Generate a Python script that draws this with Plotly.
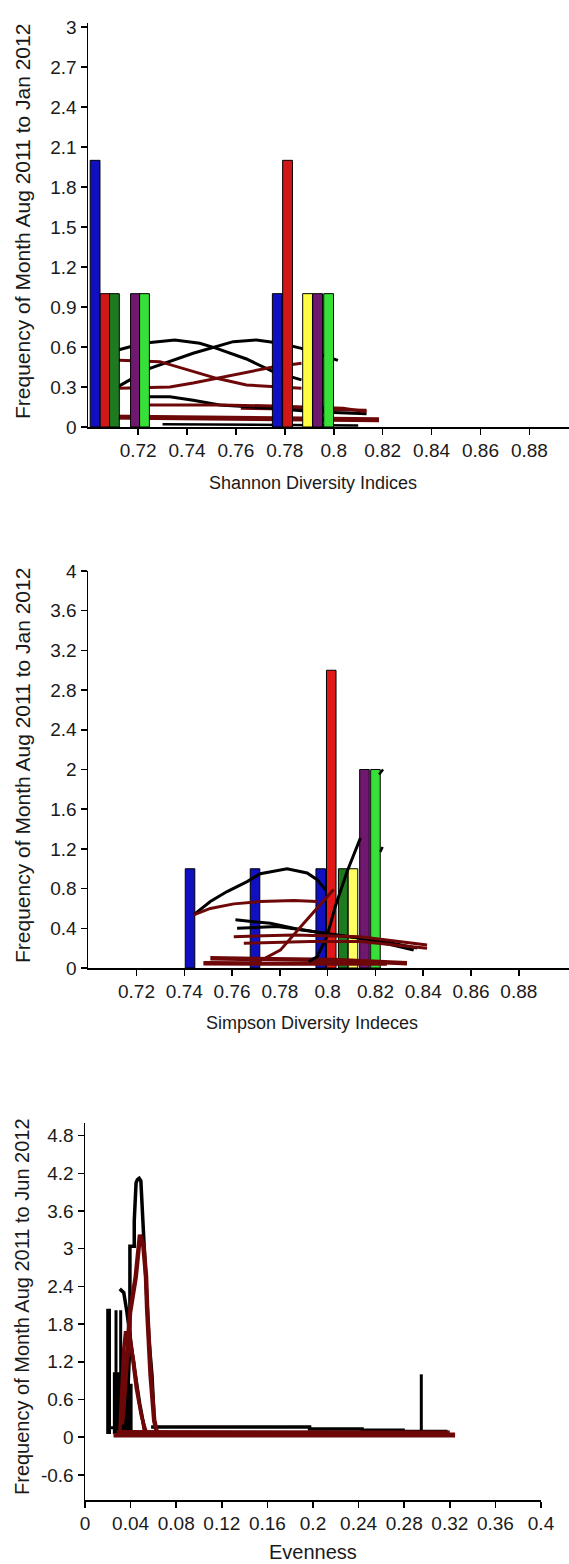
import plotly.graph_objects as go

W, H = 569, 1564

# ---------------- Panel 1: Shannon diversity ----------------
shannon_bar_x = [0.7024, 0.7065, 0.7103, 0.7189, 0.7226, 0.7769, 0.7811, 0.7893, 0.7934, 0.7979]
shannon_bar_freq = [2, 1, 1, 1, 1, 1, 2, 1, 1, 1]
shannon_bar_colors = ["#1010C0", "#D01818", "#1E7A1E", "#701870", "#36E036",
                      "#1010C0", "#D01818", "#FFFF40", "#701870", "#36E036"]

sh_fit1_x = [0.7118, 0.7220, 0.7350, 0.7452, 0.7521, 0.7643, 0.7752, 0.7868]
sh_fit1_y = [0.578, 0.628, 0.653, 0.628, 0.590, 0.51, 0.415, 0.353]
sh_fit2_x = [0.7118, 0.7248, 0.7425, 0.7589, 0.7684, 0.7780, 0.7868, 0.8017]
sh_fit2_y = [0.303, 0.44, 0.553, 0.64, 0.653, 0.628, 0.59, 0.50]
sh_red1_x = [0.7016, 0.7125, 0.7289, 0.7425, 0.7521, 0.7643, 0.7868]
sh_red1_y = [0.50, 0.50, 0.49, 0.415, 0.365, 0.315, 0.29]
sh_red2_x = [0.7125, 0.7330, 0.7425, 0.7521, 0.7643, 0.7752, 0.7868]
sh_red2_y = [0.29, 0.30, 0.33, 0.365, 0.415, 0.45, 0.478]
sh_fit3_x = [0.7241, 0.7330, 0.7425, 0.7534, 0.7752, 0.7916, 0.8134]
sh_fit3_y = [0.227, 0.227, 0.20, 0.165, 0.14, 0.115, 0.10]
sh_red3_x = [0.7241, 0.7534, 0.7752, 0.8038, 0.8134]
sh_red3_y = [0.165, 0.165, 0.158, 0.14, 0.115]
sh_red4_x = [0.7060, 0.7500, 0.7900, 0.8185]
sh_red4_y = [0.075, 0.065, 0.06, 0.055]
sh_fit4_x = [0.7300, 0.7700, 0.8100]
sh_fit4_y = [0.02, 0.015, 0.012]
sh_red5_x = [0.7620, 0.7900, 0.8134]
sh_red5_y = [0.14, 0.13, 0.125]

# ---------------- Panel 2: Simpson diversity ----------------
simpson_bar_x = [0.7424, 0.7696, 0.7971, 0.8015, 0.8065, 0.8106, 0.8154, 0.8200]
simpson_bar_freq = [1, 1, 1, 3, 1, 1, 2, 2]
simpson_bar_colors = ["#1010C0", "#1010C0", "#1010C0", "#E01818", "#1E7A1E",
                      "#FFFF60", "#701870", "#36E036"]

si_fit1_x = [0.7439, 0.7509, 0.7579, 0.7663, 0.7718, 0.7830, 0.7914, 0.7956, 0.7990]
si_fit1_y = [0.535, 0.67, 0.77, 0.87, 0.95, 1.0, 0.957, 0.89, 0.79]
si_fit2_x = [0.7921, 0.7956, 0.7997, 0.8032, 0.8081, 0.8137]
si_fit2_y = [0.064, 0.114, 0.316, 0.62, 0.97, 1.31]
si_fit3_x = [0.7614, 0.7760, 0.7886, 0.7997, 0.8137, 0.8276, 0.8360]
si_fit3_y = [0.485, 0.45, 0.385, 0.35, 0.30, 0.23, 0.18]
si_fit4_x = [0.7621, 0.7788, 0.7900, 0.8025, 0.8207, 0.8374]
si_fit4_y = [0.40, 0.417, 0.384, 0.333, 0.283, 0.20]
si_mark_x = [0.8215, 0.8232, None, 0.8220, 0.8230]
si_mark_y = [1.95, 2.0, None, 1.17, 1.22]
si_red1_x = [0.7439, 0.7509, 0.7607, 0.7718, 0.7858, 0.7956]
si_red1_y = [0.535, 0.60, 0.646, 0.67, 0.68, 0.67]
si_red2_x = [0.7700, 0.7802, 0.7900, 0.8025]
si_red2_y = [0.05, 0.18, 0.45, 0.79]
si_red3_x = [0.7607, 0.7858, 0.8137, 0.8416]
si_red3_y = [0.316, 0.333, 0.316, 0.232]
si_red4_x = [0.7649, 0.7928, 0.8137, 0.8416]
si_red4_y = [0.25, 0.266, 0.266, 0.20]
si_red5_x = [0.7509, 0.7858, 0.8025, 0.8332]
si_red5_y = [0.098, 0.09, 0.08, 0.047]
si_red6_x = [0.7480, 0.7970, 0.8248]
si_red6_y = [0.047, 0.047, 0.045]

# ---------------- Panel 3: Evenness ----------------
ev_peak_x = [0.0360, 0.0394, 0.0394, 0.0432, 0.0432, 0.0448, 0.0460, 0.0475, 0.0490,
             0.0502, 0.0520, 0.0544, 0.0561, 0.0588, 0.0607, 0.0630]
ev_peak_y = [0.05, 1.5, 3.04, 3.04, 3.44, 4.05, 4.10, 4.12, 4.08, 3.65, 3.08, 2.05,
             1.55, 0.98, 0.27, 0.05]
ev_desc_x = [0.0305, 0.0340, 0.0367, 0.0397, 0.0432, 0.0480, 0.0530]
ev_desc_y = [2.36, 2.30, 2.0, 1.55, 1.1, 0.53, 0.05]
ev_redpeak_x = [0.0330, 0.0395, 0.0445, 0.0465, 0.0482, 0.0512, 0.0535, 0.0545,
                0.0575, 0.0607, 0.0630]
ev_redpeak_y = [0.3, 1.98, 2.55, 3.0, 3.22, 3.05, 2.57, 2.05, 1.0, 0.27, 0.08]
ev_red2_x = [0.0305, 0.0340, 0.0355, 0.0390, 0.0414, 0.0450, 0.0496, 0.0540]
ev_red2_y = [0.05, 1.4, 1.66, 1.66, 1.32, 0.78, 0.33, 0.06]
ev_red3_x = [0.0330, 0.0370, 0.0400, 0.0430, 0.0470, 0.0520]
ev_red3_y = [0.2, 1.2, 1.5, 1.2, 0.6, 0.1]
ev_spike_x = [0.0199, 0.0199, 0.0215, 0.0215, None, 0.0272, 0.0272, None, 0.0313, 0.0313]
ev_spike_y = [0.05, 2.02, 2.02, 0.05, None, 0.08, 2.02, None, 0.08, 2.02]
ev_block_x = [0.0262, 0.0262, 0.0280, 0.0280, 0.0300, 0.0300, 0.0320, 0.0320, 0.0345,
              0.0345, 0.0372, 0.0372, 0.0400, 0.0400]
ev_block_y = [0.05, 1.0, 1.0, 0.1, 0.1, 1.0, 1.0, 0.1, 0.1, 0.95, 0.95, 0.1, 0.1, 0.85]
ev_base_x = [0.0199, 0.0350]
ev_base_y = [0.15, 0.15]
ev_tail_x = [0.0580, 0.1970, 0.1970, 0.2430, 0.2430, 0.2790, 0.2790, 0.3180]
ev_tail_y = [0.16, 0.16, 0.13, 0.13, 0.11, 0.11, 0.09, 0.09]
ev_single_x = [0.2950, 0.2950]
ev_single_y = [0.08, 1.0]
ev_redband1_x = [0.0280, 0.0600, 0.2000, 0.3180, 0.3180, 0.3246]
ev_redband1_y = [0.08, 0.08, 0.08, 0.07, 0.04, 0.04]
ev_redband2_x = [0.0250, 0.0600, 0.3246]
ev_redband2_y = [0.03, 0.03, 0.03]

BLACK = "#000000"
MAROON = "#6E0808"

fig = go.Figure()


def line(x, y, color, width, xa, ya):
    fig.add_trace(go.Scatter(x=x, y=y, mode="lines", line=dict(color=color, width=width),
                             xaxis=xa, yaxis=ya, showlegend=False, hoverinfo="skip"))


# panel 1 lines (base subplot, bars overlaid above them)
for xs, ys, c, w in [
    (sh_red4_x, sh_red4_y, MAROON, 5), (sh_fit4_x, sh_fit4_y, BLACK, 2.5),
    (sh_red5_x, sh_red5_y, MAROON, 3),
    (sh_fit1_x, sh_fit1_y, BLACK, 3), (sh_fit2_x, sh_fit2_y, BLACK, 3),
    (sh_red1_x, sh_red1_y, MAROON, 3), (sh_red2_x, sh_red2_y, MAROON, 3),
    (sh_fit3_x, sh_fit3_y, BLACK, 3), (sh_red3_x, sh_red3_y, MAROON, 3),
]:
    line(xs, ys, c, w, "x", "y")

fig.add_trace(go.Bar(x=shannon_bar_x, y=shannon_bar_freq, width=0.0040,
                     marker=dict(color=shannon_bar_colors, line=dict(color="black", width=1)),
                     xaxis="x4", yaxis="y4", showlegend=False))

# panel 2
fig.add_trace(go.Bar(x=simpson_bar_x, y=simpson_bar_freq, width=0.0040,
                     marker=dict(color=simpson_bar_colors, line=dict(color="black", width=1)),
                     xaxis="x2", yaxis="y2", showlegend=False))
for xs, ys, c, w in [
    (si_red5_x, si_red5_y, MAROON, 4.5), (si_red6_x, si_red6_y, MAROON, 4.5),
    (si_fit1_x, si_fit1_y, BLACK, 3), (si_fit2_x, si_fit2_y, BLACK, 3),
    (si_fit3_x, si_fit3_y, BLACK, 3), (si_fit4_x, si_fit4_y, BLACK, 3),
    (si_mark_x, si_mark_y, BLACK, 2.5),
    (si_red1_x, si_red1_y, MAROON, 3), (si_red2_x, si_red2_y, MAROON, 3),
    (si_red3_x, si_red3_y, MAROON, 3), (si_red4_x, si_red4_y, MAROON, 3),
]:
    line(xs, ys, c, w, "x2", "y2")

# panel 3
for xs, ys, c, w in [
    (ev_spike_x, ev_spike_y, BLACK, 3), (ev_block_x, ev_block_y, BLACK, 4),
    (ev_base_x, ev_base_y, BLACK, 3), (ev_tail_x, ev_tail_y, BLACK, 3.5),
    (ev_single_x, ev_single_y, BLACK, 3),
    (ev_peak_x, ev_peak_y, BLACK, 3.5),
    (ev_desc_x, ev_desc_y, BLACK, 3.5),
    (ev_redband1_x, ev_redband1_y, MAROON, 4.5), (ev_redband2_x, ev_redband2_y, MAROON, 4.5),
    (ev_red3_x, ev_red3_y, MAROON, 3),
    (ev_red2_x, ev_red2_y, MAROON, 3.5), (ev_redpeak_x, ev_redpeak_y, MAROON, 4.5),
]:
    line(xs, ys, c, w, "x3", "y3")

FONT = "Liberation Sans, Arial, sans-serif"
TICKFONT = dict(family=FONT, size=19, color="#1a1a1a")

axis_common = dict(showline=True, linecolor="black", linewidth=1.5, ticks="outside",
                   ticklen=6, tickcolor="black", tickwidth=1.5, showgrid=False,
                   zeroline=False, tickfont=TICKFONT, fixedrange=True, automargin=False)

sh_xticks = [0.72, 0.74, 0.76, 0.78, 0.80, 0.82, 0.84, 0.86, 0.88]
sh_xtext = ["0.72", "0.74", "0.76", "0.78", "0.8", "0.82", "0.84", "0.86", "0.88"]
sh_yticks = [0, 0.3, 0.6, 0.9, 1.2, 1.5, 1.8, 2.1, 2.4, 2.7, 3]
sh_ytext = ["0", "0.3", "0.6", "0.9", "1.2", "1.5", "1.8", "2.1", "2.4", "2.7", "3"]
si_yticks = [0, 0.4, 0.8, 1.2, 1.6, 2, 2.4, 2.8, 3.2, 3.6, 4]
si_ytext = ["0", "0.4", "0.8", "1.2", "1.6", "2", "2.4", "2.8", "3.2", "3.6", "4"]
ev_xticks = [0, 0.04, 0.08, 0.12, 0.16, 0.2, 0.24, 0.28, 0.32, 0.36, 0.4]
ev_xtext = ["0", "0.04", "0.08", "0.12", "0.16", "0.2", "0.24", "0.28", "0.32", "0.36", "0.4"]
ev_yticks = [-0.6, 0, 0.6, 1.2, 1.8, 2.4, 3, 3.6, 4.2, 4.8]
ev_ytext = ["-0.6", "0", "0.6", "1.2", "1.8", "2.4", "3", "3.6", "4.2", "4.8"]


def py(p):
    return 1 - p / H


SH_XR = [0.6995, 0.8962]
SH_YR = [0, 3.03]

fig.update_layout(
    template="none",
    width=W, height=H, margin=dict(l=0, r=0, t=0, b=0, autoexpand=False),
    paper_bgcolor="white", plot_bgcolor="white", showlegend=False, barmode="overlay",
    xaxis=dict(axis_common, domain=[88 / W, 1], range=SH_XR, anchor="y",
               tickvals=sh_xticks, ticktext=sh_xtext),
    yaxis=dict(axis_common, domain=[py(427), py(23)], range=SH_YR, anchor="x",
               tickvals=sh_yticks, ticktext=sh_ytext),
    xaxis4=dict(overlaying="x", range=SH_XR, visible=False, fixedrange=True, anchor="y4"),
    yaxis4=dict(overlaying="y", range=SH_YR, visible=False, fixedrange=True, anchor="x4"),
    xaxis2=dict(axis_common, domain=[88 / W, 1], range=[0.6997, 0.9010], anchor="y2",
                tickvals=sh_xticks, ticktext=sh_xtext),
    yaxis2=dict(axis_common, domain=[py(968), py(571)], range=[0, 4.0], anchor="x2",
                tickvals=si_yticks, ticktext=si_ytext),
    xaxis3=dict(axis_common, domain=[85 / W, 541 / W], range=[0, 0.4], anchor="y3",
                tickvals=ev_xticks, ticktext=ev_xtext),
    yaxis3=dict(axis_common, domain=[py(1500), py(1123)], range=[-1, 5], anchor="x3",
                tickvals=ev_yticks, ticktext=ev_ytext),
)

TITLE_FONT = dict(family=FONT, size=18, color="#1a1a1a")
YT_FONT = dict(family=FONT, size=21, color="#1a1a1a")
annos = [
    dict(text="Shannon Diversity Indices", x=313 / W, y=py(483), font=TITLE_FONT),
    dict(text="Simpson Diversity Indeces", x=312 / W, y=py(1023), font=TITLE_FONT),
    dict(text="Evenness", x=313 / W, y=py(1552), font=dict(family=FONT, size=20, color="#1a1a1a")),
    dict(text="Frequency of Month Aug 2011 to Jan 2012", x=22 / W, y=py(222), textangle=-90, font=YT_FONT),
    dict(text="Frequency of Month Aug 2011 to Jan 2012", x=22 / W, y=py(766), textangle=-90, font=YT_FONT),
    dict(text="Frequency of Month Aug 2011 to Jun 2012", x=22 / W, y=py(1307), textangle=-90,
         font=dict(family=FONT, size=20, color="#1a1a1a")),
]
for a in annos:
    fig.add_annotation(xref="paper", yref="paper", showarrow=False, xanchor="center",
                       yanchor="middle", **a)

fig.write_html(
    "out.html",
    config={"displayModeBar": False, "staticPlot": True},
    post_script="document.body.style.margin='0px';document.body.style.padding='0px';"
                "document.body.style.overflow='hidden';",
)
